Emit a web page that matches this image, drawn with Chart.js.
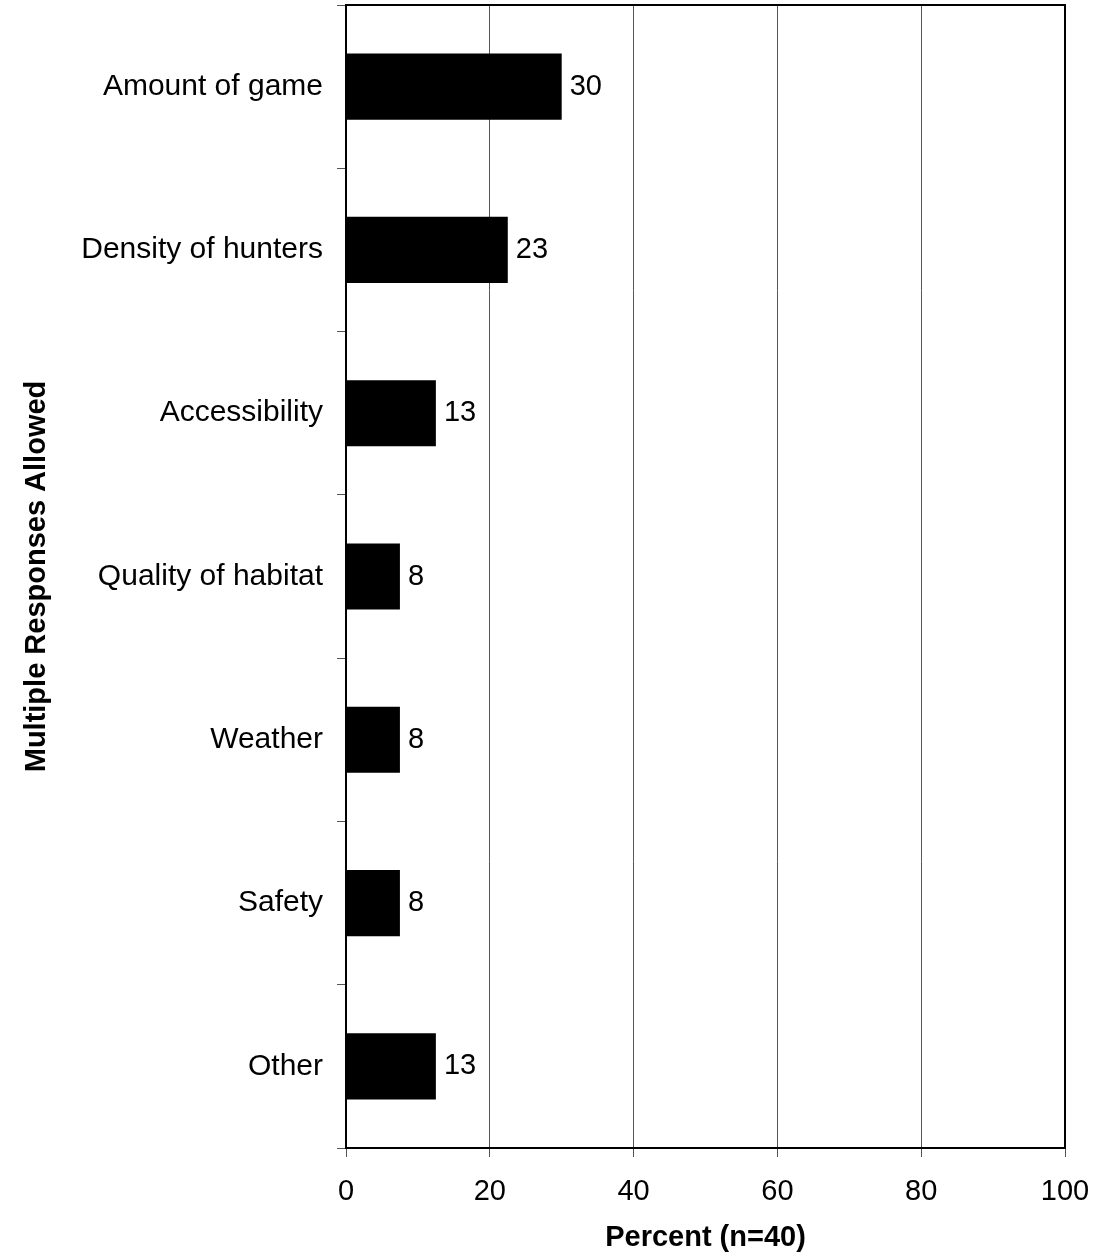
<!DOCTYPE html>
<html>
<head>
<meta charset="utf-8">
<script src="https://cdn.jsdelivr.net/npm/chart.js@4/dist/chart.umd.min.js"></script>
<style>
  html, body { margin: 0; padding: 0; background: #fff; }
</style>
</head>
<body>
<canvas id="reasonsChart" width="1094" height="1259"></canvas>
<script>
// categories and values (percent of n=40)
var categories = ['Amount of game', 'Density of hunters', 'Accessibility', 'Quality of habitat', 'Weather', 'Safety', 'Other'];
var percents = [30, 22.5, 12.5, 7.5, 7.5, 7.5, 12.5];
var valueLabels = ['30', '23', '13', '8', '8', '8', '13'];
var xTicks = [0, 20, 40, 60, 80, 100];

var FONT = '"Liberation Sans", Arial, sans-serif';

// small value labels at the end of each bar
var barLabels = {
    id: 'barLabels',
    afterDatasetsDraw: function (chart) {
        var ctx = chart.ctx;
        var meta = chart.getDatasetMeta(0);
        ctx.save();
        ctx.font = '29px ' + FONT;
        ctx.fillStyle = '#000';
        ctx.textAlign = 'left';
        ctx.textBaseline = 'middle';
        meta.data.forEach(function (bar, i) {
            ctx.fillText(valueLabels[i], bar.x + 8, bar.y);
        });
        ctx.restore();
    }
};

// closes the plot box on top and right
var frame = {
    id: 'frame',
    afterDraw: function (chart) {
        var a = chart.chartArea;
        var ctx = chart.ctx;
        ctx.save();
        ctx.strokeStyle = '#000';
        ctx.lineWidth = 2;
        ctx.beginPath();
        ctx.moveTo(a.left, a.top);
        ctx.lineTo(a.right, a.top);
        ctx.lineTo(a.right, a.bottom);
        ctx.stroke();
        ctx.restore();
    }
};

document.addEventListener('DOMContentLoaded', function () {
    var ctx = document.getElementById('reasonsChart').getContext('2d');
    var reasonsChart = new Chart(ctx, {
        type: 'bar',
        data: {
            labels: categories,
            datasets: [{
                data: percents,
                backgroundColor: '#000',
                borderWidth: 0,
                categoryPercentage: 1,
                barPercentage: 0.405
            }]
        },
        options: {
            indexAxis: 'y',
            responsive: false,
            animation: false,
            layout: { padding: { top: 5, right: 29, bottom: 0, left: 0 } },
            plugins: {
                legend: { display: false },
                tooltip: { enabled: false }
            },
            scales: {
                x: {
                    min: 0,
                    max: 100,
                    afterBuildTicks: function (scale) {
                        scale.ticks = xTicks.map(function (v) { return { value: v }; });
                    },
                    afterFit: function (scale) {
                        scale.height = 111;
                        scale.paddingLeft = 0;
                        scale.paddingRight = 0;
                    },
                    ticks: {
                        color: '#000',
                        font: { family: FONT, size: 29 },
                        padding: 18,
                        maxRotation: 0
                    },
                    grid: {
                        color: '#555',
                        lineWidth: 1,
                        tickLength: 9,
                        tickColor: '#555'
                    },
                    border: { color: '#000', width: 2 },
                    title: {
                        display: true,
                        text: 'Percent (n=40)',
                        color: '#000',
                        font: { family: FONT, size: 29, weight: 'bold' },
                        padding: { top: 0, bottom: 4 }
                    }
                },
                y: {
                    afterFit: function (scale) {
                        scale.width = 346;
                        scale.paddingTop = 0;
                        scale.paddingBottom = 0;
                    },
                    ticks: {
                        color: '#000',
                        font: { family: FONT, size: 30 },
                        padding: 14
                    },
                    grid: {
                        drawOnChartArea: false,
                        offset: true,
                        tickLength: 9,
                        tickColor: '#555'
                    },
                    border: { color: '#000', width: 2 },
                    title: {
                        display: true,
                        text: 'Multiple Responses Allowed',
                        color: '#000',
                        font: { family: FONT, size: 29, weight: 'bold' },
                        padding: { top: 20, bottom: 0 }
                    }
                }
            }
        },
        plugins: [barLabels, frame]
    });
});
</script>
</body>
</html>
